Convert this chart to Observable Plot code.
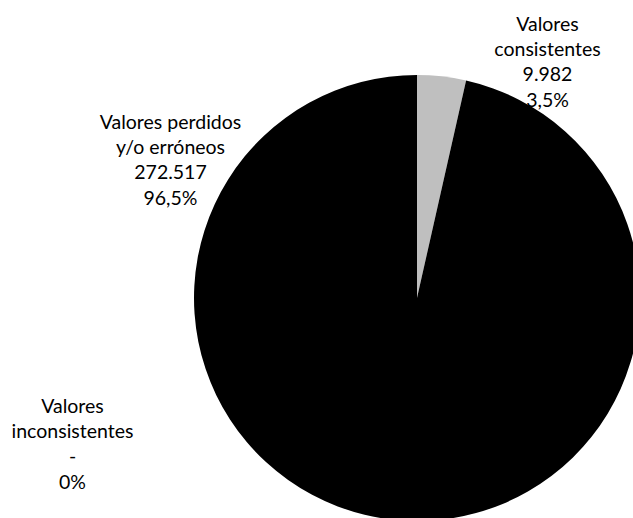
<!DOCTYPE html>
<html>
<head>
<meta charset="utf-8">
<script src="https://cdn.jsdelivr.net/npm/d3@7"></script>
<script src="https://cdn.jsdelivr.net/npm/@observablehq/plot@0.6"></script>
<style>
  html, body { margin: 0; padding: 0; background: #fff; }
  #chart svg { display: block; }
</style>
</head>
<body>
<div id="chart"></div>
<script>
// ---- data ----
const categories = ["Valores consistentes", "Valores perdidos y/o erróneos", "Valores inconsistentes"];
const labelNames = ["Valores\nconsistentes", "Valores perdidos\ny/o erróneos", "Valores\ninconsistentes"];
const values = [9982, 272517, 0];
const valueLabels = ["9.982", "272.517", "-"];
const percentLabels = ["3,5%", "96,5%", "0%"];
const colors = ["#bfbfbf", "#000000", "#7f7f7f"];

// ---- layout (chart units: pie centred at 0,0, radius R) ----
const W = 633, H = 518;
const R = 223;
const labelPos = [[130, 238], [-247, 140], [-345, -144]];

const pie = d3.pie().sort(null).value(d => d.value)(
  categories.map((c, i) => ({category: c, value: values[i], color: colors[i]}))
);

const labels = categories.map((c, i) => ({
  text: `${labelNames[i]}\n${valueLabels[i]}\n${percentLabels[i]}`,
  x: labelPos[i][0],
  y: labelPos[i][1]
}));

function pieMark(index, scales) {
  const cx = scales.x(0), cy = scales.y(0);
  const r = scales.x(R) - scales.x(0);
  const arc = d3.arc().innerRadius(0).outerRadius(r);
  const g = d3.create("svg:g").attr("transform", `translate(${cx},${cy})`);
  g.selectAll("path")
    .data(pie.filter(d => d.value > 0))
    .join("path")
    .attr("d", arc)
    .attr("fill", d => d.data.color)
    .attr("stroke", "none");
  return g.node();
}

const chart = Plot.plot({
  width: W,
  height: H,
  margin: 0,
  style: {background: "#fff", fontFamily: "Lato, 'Liberation Sans', Arial, sans-serif"},
  x: {domain: [-417, W - 417], range: [0, W], axis: null},
  y: {domain: [-(H - 298), 298], range: [H, 0], axis: null},
  marks: [
    pieMark,
    Plot.text(labels, {
      x: "x", y: "y", text: "text",
      fontSize: 19.5, lineHeight: 1.3, lineAnchor: "middle",
      textAnchor: "middle", fill: "#000"
    })
  ]
});
document.getElementById("chart").appendChild(chart);
</script>
</body>
</html>
